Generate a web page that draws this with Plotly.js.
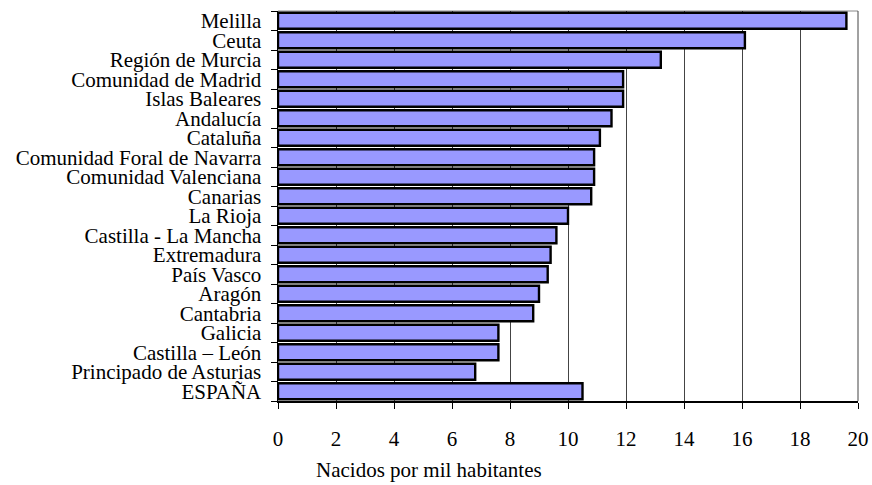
<!DOCTYPE html>
<html>
<head>
<meta charset="utf-8">
<script src="https://cdn.plot.ly/plotly-3.0.1.min.js"></script>
<style>
html,body{margin:0;padding:0;background:#fff;}
#chart{width:872px;height:485px;}
</style>
</head>
<body>
<div id="chart"></div>
<script>
const regions = ["Melilla","Ceuta","Región de Murcia","Comunidad de Madrid","Islas Baleares","Andalucía","Cataluña","Comunidad Foral de Navarra","Comunidad Valenciana","Canarias","La Rioja","Castilla - La Mancha","Extremadura","País Vasco","Aragón","Cantabria","Galicia","Castilla – León","Principado de Asturias","ESPAÑA"];
const births = [19.6,16.1,13.2,11.9,11.9,11.5,11.1,10.9,10.9,10.8,10.0,9.6,9.4,9.3,9.0,8.8,7.6,7.6,6.8,10.5];
const xTicks = [0,2,4,6,8,10,12,14,16,18,20];
const xTitle = "Nacidos por mil habitantes";

const font = "Liberation Serif";

const trace = {
  type: "bar",
  orientation: "h",
  y: regions,
  x: births,
  marker: {color: "#9999FF", line: {color: "#000000", width: 2.4}},
  hoverinfo: "none"
};

const layout = {
  width: 872, height: 485,
  margin: {l: 278, r: 14, t: 11, b: 84, pad: 0},
  paper_bgcolor: "#ffffff",
  plot_bgcolor: "#ffffff",
  bargap: 0.18,
  showlegend: false,
  font: {family: font, size: 21, color: "#000"},
  xaxis: {
    range: [0, 20],
    tickmode: "array",
    tickvals: xTicks,
    ticktext: xTicks.map(String),
    showgrid: true,
    gridcolor: "#444444",
    gridwidth: 1,
    showline: true,
    linecolor: "#000",
    linewidth: 1.5,
    ticks: "outside",
    ticklen: 6,
    tickcolor: "#000",
    tickfont: {family: font, size: 21, color: "#000"},
    ticklabelstandoff: 12,
    zeroline: false,
    fixedrange: true
  },
  yaxis: {
    type: "category",
    categoryorder: "array",
    categoryarray: regions,
    autorange: "reversed",
    tickmode: "array",
    tickvals: regions,
    ticktext: regions,
    showgrid: false,
    showline: true,
    linecolor: "#000",
    linewidth: 1.5,
    ticks: "outside",
    tickson: "boundaries",
    ticklen: 6,
    tickcolor: "#000",
    tickfont: {family: font, size: 21, color: "#000"},
    ticklabelstandoff: 11,
    zeroline: false,
    fixedrange: true
  },
  shapes: [
    {type: "line", xref: "paper", yref: "paper", x0: 0, x1: 1, y0: 1, y1: 1, line: {color: "#888888", width: 1}, layer: "below"},
    {type: "line", xref: "paper", yref: "paper", x0: 1, x1: 1, y0: 0, y1: 1, line: {color: "#444444", width: 1}, layer: "below"}
  ],
  annotations: [
    {text: xTitle, xref: "paper", yref: "paper", x: 0.062, y: -0.177, xanchor: "left", yanchor: "middle", showarrow: false, font: {family: font, size: 21, color: "#000"}}
  ]
};

Plotly.newPlot("chart", [trace], layout, {staticPlot: true, displayModeBar: false});
</script>
</body>
</html>
